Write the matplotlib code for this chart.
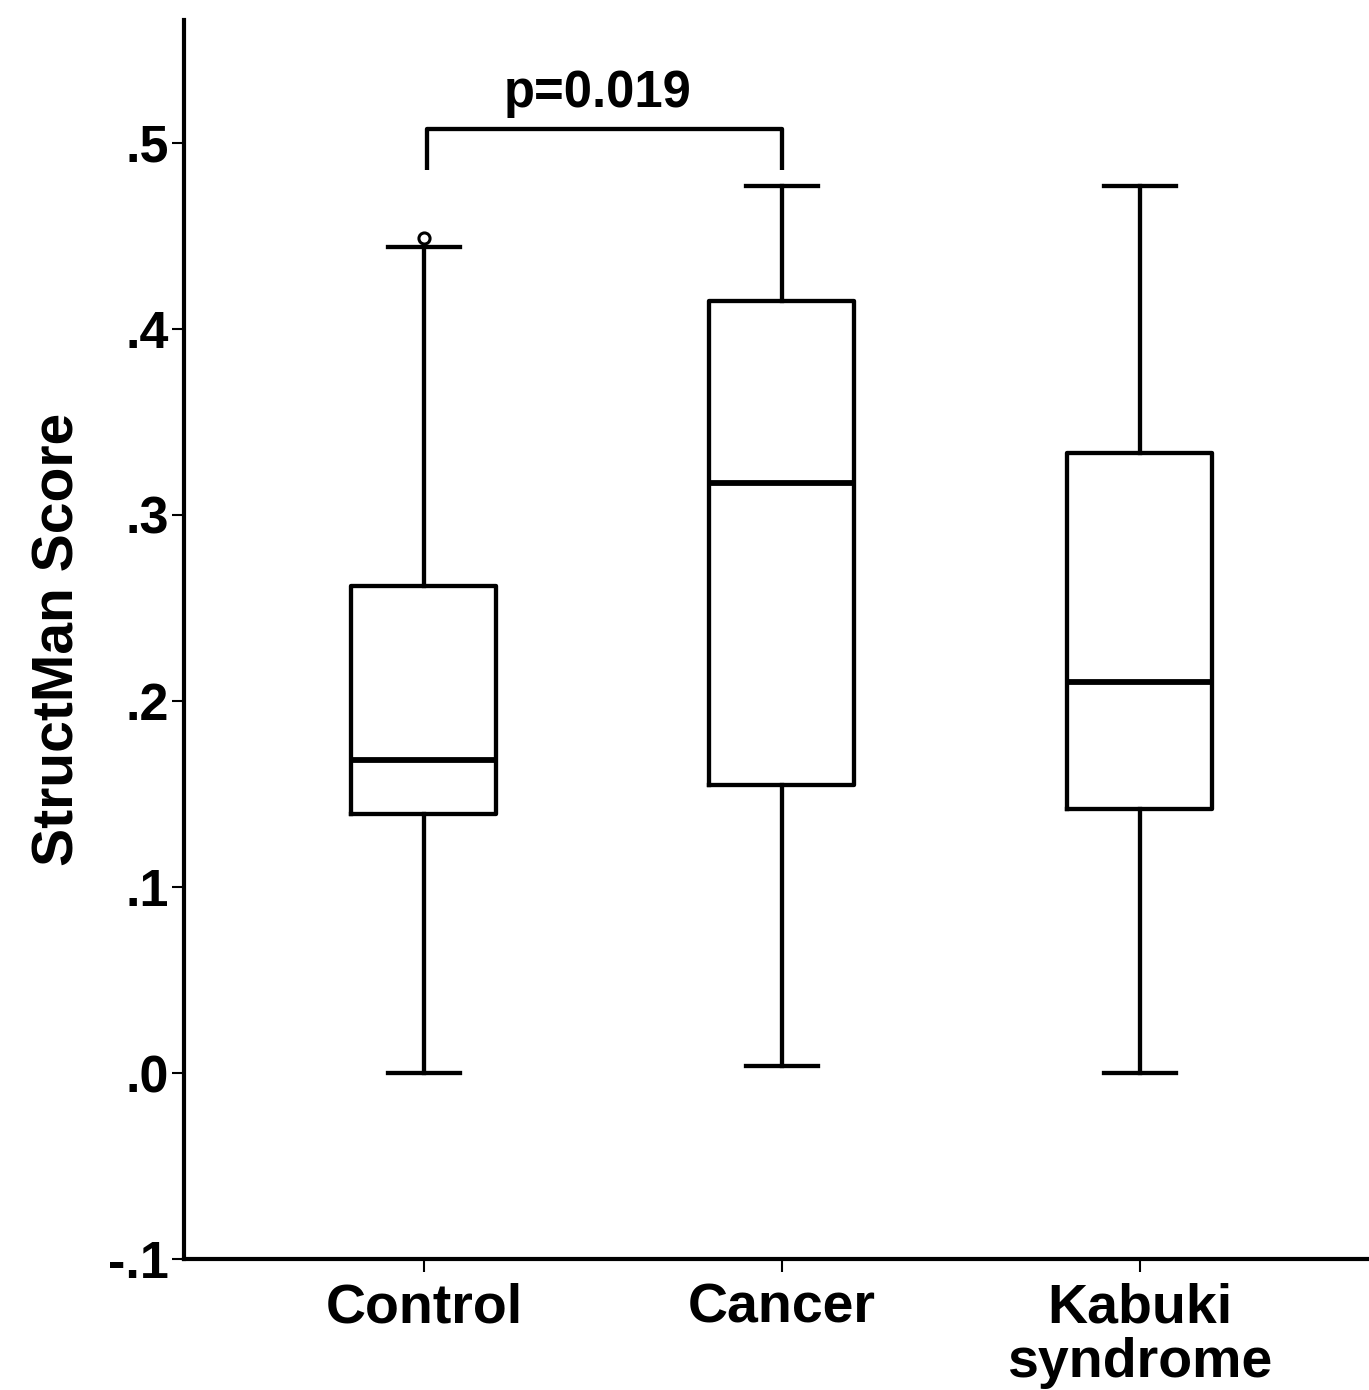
import matplotlib.pyplot as plt

plt.rcParams['font.family'] = ['Liberation Sans', 'DejaVu Sans']
plt.rcParams['font.weight'] = 'bold'

# group names and box statistics
groups = ['Control', 'Cancer', 'Kabuki\nsyndrome']
whislo = [0.000, 0.004, 0.000]
q1 = [0.139, 0.155, 0.142]
med = [0.168, 0.317, 0.210]
q3 = [0.262, 0.415, 0.333]
whishi = [0.444, 0.477, 0.477]
outliers = [[0.449], [], []]

yticks = [-0.1, 0.0, 0.1, 0.2, 0.3, 0.4, 0.5]
ytick_labels = ['-.1', '.0', '.1', '.2', '.3', '.4', '.5']

p_text = 'p=0.019'
bracket_y = 0.5075
bracket_drop = 0.022

stats = []
for i in range(len(groups)):
    stats.append(dict(label=groups[i], whislo=whislo[i], q1=q1[i], med=med[i],
                      q3=q3[i], whishi=whishi[i], fliers=outliers[i]))

fig = plt.figure(figsize=(13.69, 13.90), dpi=100)
ax = fig.add_axes([0.1344, 0.0942, 0.8656, 0.8914])

lw = 3.1
ax.bxp(stats, positions=[1, 2, 3], widths=0.405, showfliers=True,
       boxprops=dict(color='black', linewidth=lw),
       medianprops=dict(color='black', linewidth=lw * 1.35),
       whiskerprops=dict(color='black', linewidth=lw),
       capprops=dict(color='black', linewidth=lw),
       capwidths=0.2,
       flierprops=dict(marker='o', markersize=8, markerfacecolor='white',
                       markeredgecolor='black', markeredgewidth=2.2))

# significance bracket
ax.plot([1.01, 1.01, 2, 2],
        [bracket_y - bracket_drop, bracket_y, bracket_y, bracket_y - bracket_drop],
        color='black', linewidth=lw, solid_capstyle='butt')
ax.text(1.485, bracket_y + 0.006, p_text, ha='center', va='bottom',
        fontsize=36.5, fontweight='bold')

ax.set_xlim(0.33, 3.64)
ax.set_ylim(-0.1, 0.566)
ax.set_yticks(yticks)
ax.set_yticklabels(ytick_labels)
ax.set_xticks([1, 2, 3])
ax.set_xticklabels(groups, linespacing=1.05)

for s in ['top', 'right']:
    ax.spines[s].set_visible(False)
for s in ['left', 'bottom']:
    ax.spines[s].set_linewidth(3.0)

ax.tick_params(axis='both', length=9, width=1.5, direction='out')
ax.tick_params(axis='y', labelsize=37.5, pad=2)
ax.tick_params(axis='x', labelsize=40, pad=8)
ax.set_ylabel('StructMan Score', fontsize=41, fontweight='bold', labelpad=16)

fig.savefig('out.png', dpi=100)
